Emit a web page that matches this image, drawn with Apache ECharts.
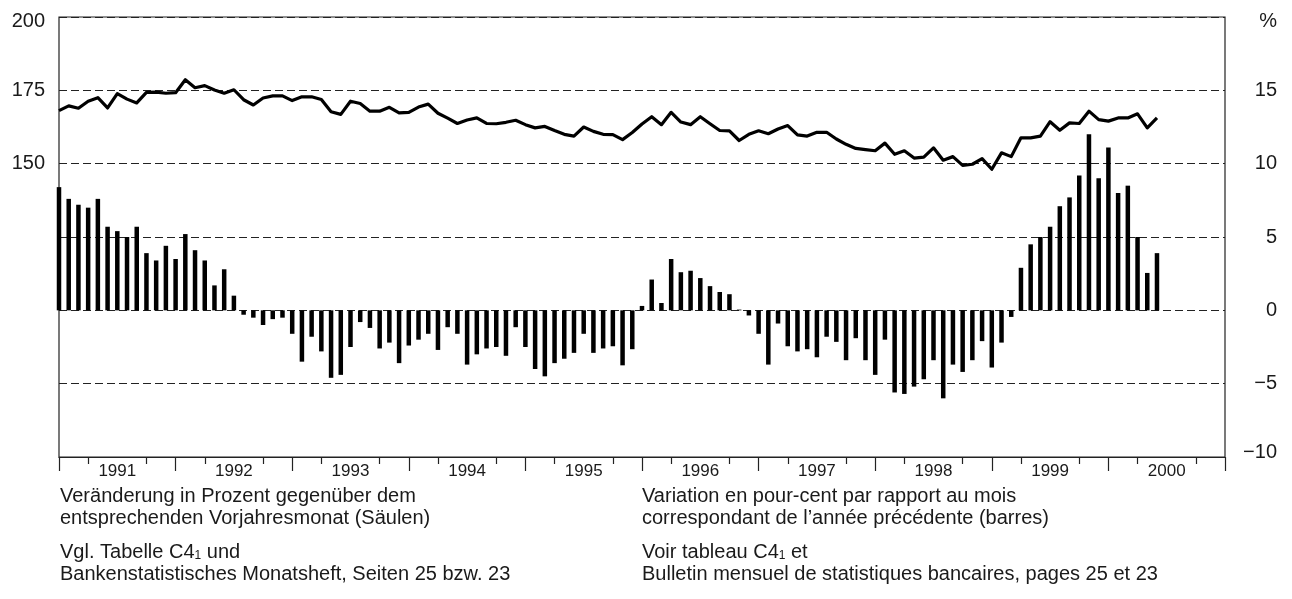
<!DOCTYPE html>
<html>
<head>
<meta charset="utf-8">
<script src="https://cdn.jsdelivr.net/npm/echarts@6/dist/echarts.min.js"></script>
<style>
  html, body { margin: 0; padding: 0; background: #fff; }
  #chart { width: 1292px; height: 599px; }
</style>
</head>
<body>
<div id="chart"></div>
<script>
// years on the time axis, label sits in the middle of each year
const years = ['1991', '1992', '1993', '1994', '1995', '1996', '1997', '1998', '1999', '2000'];

// monthly values from Jan 1991
// bars: change vs. same month of previous year, in % (right axis)
const change_pct = [
  8.4, 7.6, 7.2, 7.0, 7.6, 5.7, 5.4, 5.0, 5.7, 3.9, 3.4, 4.4,
  3.5, 5.2, 4.1, 3.4, 1.7, 2.8, 1.0, -0.3, -0.5, -1.0, -0.6, -0.5,
  -1.6, -3.5, -1.8, -2.8, -4.6, -4.4, -2.5, -0.8, -1.2, -2.6, -2.2, -3.6,
  -2.4, -2.0, -1.6, -2.7, -1.15, -1.6, -3.7, -3.0, -2.6, -2.5, -3.1, -1.15,
  -2.5, -4.0, -4.5, -3.6, -3.3, -2.9, -1.6, -2.9, -2.6, -2.45, -3.75, -2.65,
  0.3, 2.1, 0.5, 3.5, 2.6, 2.7, 2.2, 1.65, 1.25, 1.1, 0.05, -0.35,
  -1.6, -3.7, -0.9, -2.45, -2.8, -2.65, -3.2, -1.8, -2.15, -3.4, -1.9, -3.4,
  -4.4, -2.0, -5.6, -5.7, -5.2, -4.7, -3.4, -6.0, -3.7, -4.2, -3.4, -2.1,
  -3.9, -2.2, -0.45, 2.9, 4.5, 5.0, 5.7, 7.1, 7.7, 9.2, 12.0, 9.0,
  11.1, 8.0, 8.5, 5.0, 2.55, 3.9
];

// line: level (left axis)
const level = [
  168.1, 169.7, 168.9, 171.3, 172.5, 169.0, 173.9, 172.0, 170.7, 174.3, 174.4, 174.0,
  174.2, 178.6, 175.9, 176.6, 175.1, 174.0, 175.2, 171.8, 170.0, 172.4, 173.1, 173.1,
  171.5, 172.8, 172.8, 171.9, 167.7, 166.8, 171.3, 170.5, 167.9, 167.9, 169.2, 167.3,
  167.5, 169.3, 170.3, 167.2, 165.5, 163.7, 164.9, 165.6, 163.7, 163.6, 164.1, 164.8,
  163.3, 162.2, 162.7, 161.3, 160.0, 159.4, 162.5, 161.0, 160.0, 159.9, 158.2, 160.6,
  163.5, 166.0, 163.3, 167.5, 164.2, 163.3, 166.0, 163.6, 161.3, 161.2, 157.9, 160.0,
  161.2, 160.2, 161.8, 163.0, 159.8, 159.4, 160.7, 160.7, 158.4, 156.6, 155.2, 154.8,
  154.4, 157.0, 153.2, 154.4, 151.9, 152.2, 155.4, 151.2, 152.4, 149.4, 149.8, 151.7,
  148.1, 153.7, 152.4, 158.8, 158.8, 159.4, 164.3, 161.4, 163.9, 163.7, 167.9, 165.0,
  164.5, 165.6, 165.6, 167.0, 162.2, 165.6
];

// one category per month start, Jan 1991 .. Jan 2001
const months = [];
years.forEach(y => {
  for (let m = 1; m <= 12; m++) months.push(y + '-' + (m < 10 ? '0' + m : m));
});
months.push('2001-01');

const font = 'Liberation Sans';
const ink = '#1a1a1a';

const foot_style = {
  fontFamily: font,
  fontSize: 20,
  fontWeight: 'normal',
  color: ink,
  lineHeight: 22,
  rich: {
    s: { fontFamily: font, fontSize: 12, color: ink, padding: [8, 0, 0, 0] }
  }
};

const chart = echarts.init(document.getElementById('chart'));
chart.setOption({
  animation: false,
  backgroundColor: '#fff',
  grid: {
    left: 59, right: 67, top: 17, bottom: 142,
    show: true, borderColor: '#222', borderWidth: 1.2
  },
  title: [
    {
      left: 60, top: 485, padding: 0, textStyle: foot_style,
      text: 'Veränderung in Prozent gegenüber dem\nentsprechenden Vorjahresmonat (Säulen)'
    },
    {
      left: 60, top: 541, padding: 0, textStyle: foot_style,
      text: 'Vgl. Tabelle C4{s|1} und\nBankenstatistisches Monatsheft, Seiten 25 bzw. 23'
    },
    {
      left: 642, top: 485, padding: 0, textStyle: foot_style,
      text: 'Variation en pour-cent par rapport au mois\ncorrespondant de l\u2019année précédente (barres)'
    },
    {
      left: 642, top: 541, padding: 0, textStyle: foot_style,
      text: 'Voir tableau C4{s|1} et\nBulletin mensuel de statistiques bancaires, pages 25 et 23'
    }
  ],
  xAxis: [
    {
      type: 'category',
      data: months,
      boundaryGap: false,
      position: 'bottom',
      axisLine: { show: true, onZero: false, lineStyle: { color: '#222', width: 1.2 } },
      axisTick: {
        show: true, length: 14,
        interval: (idx) => idx % 12 === 0,
        lineStyle: { color: '#222', width: 1.2 }
      },
      axisLabel: {
        interval: (idx) => idx % 12 === 6,
        formatter: (v) => v.slice(0, 4),
        margin: 6,
        fontFamily: font, fontSize: 17, color: ink
      },
      splitLine: { show: false }
    },
    {
      type: 'category',
      data: months,
      boundaryGap: false,
      position: 'bottom',
      axisLine: { show: false, onZero: false },
      axisTick: {
        show: true, length: 7,
        interval: (idx) => idx % 12 === 3 || idx % 12 === 9,
        lineStyle: { color: '#222', width: 1.2 }
      },
      axisLabel: { show: false },
      splitLine: { show: false }
    }
  ],
  yAxis: [
    {
      type: 'value',
      position: 'left',
      min: 50, max: 200, interval: 25,
      axisLine: { show: false },
      axisTick: { show: false },
      splitLine: { show: false },
      axisLabel: {
        margin: 14,
        fontFamily: font, fontSize: 20, color: ink,
        formatter: (v) => v === 200 ? '{t|200}' : (v >= 150 ? String(v) : ''),
        rich: { t: { fontFamily: font, fontSize: 20, color: ink, padding: [9, 0, 0, 0] } }
      }
    },
    {
      type: 'value',
      position: 'right',
      min: -10, max: 20, interval: 5,
      axisLine: { show: false },
      axisTick: { show: false },
      splitLine: {
        show: true,
        lineStyle: { color: '#222', width: 1, type: [8, 4] }
      },
      axisLabel: {
        margin: 52, align: 'right',
        fontFamily: font, fontSize: 20, color: ink,
        formatter: (v) => {
          if (v === 20) return '{t|%}';
          if (v === -10) return '{b|\u221210}';
          return v < 0 ? '\u2212' + Math.abs(v) : String(v);
        },
        rich: {
          t: { fontFamily: font, fontSize: 20, color: ink, padding: [9, 0, 0, 0] },
          b: { fontFamily: font, fontSize: 20, color: ink, padding: [0, 0, 10, 0] }
        }
      }
    }
  ],
  series: [
    {
      name: 'change',
      type: 'bar',
      xAxisIndex: 0,
      yAxisIndex: 1,
      barWidth: 4.5,
      itemStyle: { color: '#000' },
      data: change_pct,
      z: 2
    },
    {
      name: 'level',
      type: 'line',
      xAxisIndex: 0,
      yAxisIndex: 0,
      symbol: 'none',
      lineStyle: { color: '#000', width: 3.2, join: 'round' },
      data: level,
      z: 3
    }
  ]
});
</script>
</body>
</html>
